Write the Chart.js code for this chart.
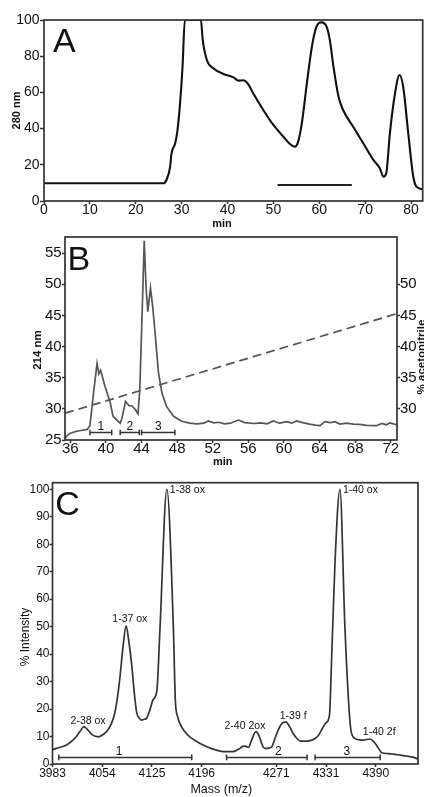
<!DOCTYPE html>
<html><head><meta charset="utf-8">
<script src="https://cdn.jsdelivr.net/npm/chart.js@4"></script>
<style>
html,body{margin:0;padding:0;background:#fff;}
#wrap{position:relative;width:424px;height:797px;overflow:hidden;background:#fff;}
canvas{position:absolute;left:0;top:0;}
</style></head><body>
<div id="wrap">
<canvas id="cA" width="424" height="797"></canvas>
<canvas id="cB" width="424" height="797"></canvas>
<canvas id="cC" width="424" height="797"></canvas>
</div>
<script>
// ---------------- Panel A: size-exclusion chromatogram (280 nm) ----------------
const aTime = [0, 26.0, 26.7, 27.5, 27.8, 28.6, 29.1, 29.6, 30.2, 30.7, 34.2, 34.6, 35.5, 36.9, 39.1, 41.3, 42.4, 43.4, 44.5, 45.6, 47.8, 50.0, 52.2, 53.6, 54.7, 55.4, 56.2, 57.3, 58.4, 59.4, 60.5, 61.6, 62.3, 63.1, 64.2, 65.2, 67.4, 69.6, 71.8, 73.2, 74.0, 74.6, 75.4, 76.4, 77.5, 78.3, 79.4, 80.5, 81.2, 82.55];
const aAbs  = [9.8, 9.8, 11.6, 19, 26.3, 31.9, 39.2, 52.1, 74.2, 100, 100, 89, 77.9, 73.3, 70.2, 68.3, 66.5, 66.7, 64.6, 59.5, 50.3, 42, 35.5, 31.5, 30, 32.8, 42.9, 65, 85.3, 96.3, 98.7, 96.3, 89, 74.2, 57.6, 50.3, 41, 31.9, 22.7, 18.1, 13.4, 15.3, 37.4, 57.6, 69.6, 63.1, 37.4, 13.4, 7.9, 6.5];
const aPool = [50.9, 67.1];     // pooled fraction (min)
const aPoolLevel = 8.8;
const aXTicks = [0, 10, 20, 30, 40, 50, 60, 70, 80];
const aYTicks = [0, 20, 40, 60, 80, 100];

// ---------------- Panel B: RP-HPLC (214 nm) + acetonitrile gradient ----------------
const bTime = [35.4, 35.7, 36.0, 36.7, 37.5, 37.9, 38.2, 38.6, 39.0, 39.2, 39.4, 39.9, 40.5, 40.8, 41.6, 41.8, 42.2, 42.6, 42.9, 43.3, 43.6, 43.8, 44.1, 44.3, 44.5, 44.7, 45.0, 45.25, 45.55, 45.9, 46.3, 46.8, 47.6, 48.5, 49.4, 50.2, 51.0, 51.5, 52.1, 52.7, 53.3, 54.0, 54.9, 55.6, 56.6, 57.4, 58.1, 58.8, 59.5, 60.3, 60.9, 61.4, 62.2, 62.9, 63.5, 64.05, 64.6, 65.2, 65.7, 66.3, 67.0, 67.8, 68.5, 69.3, 70.4, 71.0, 71.5, 71.9, 72.3, 72.7];
const bAbs  = [25.3, 25.8, 26.1, 26.4, 26.6, 26.7, 27.3, 32.5, 37.3, 35.6, 36.2, 33.6, 30.9, 28.8, 27.7, 28.5, 31.2, 30.5, 30.5, 29.9, 29.2, 33.0, 47, 57.0, 49.7, 45.6, 49.4, 46.5, 41.7, 35.8, 32.5, 30.4, 28.8, 28.0, 27.7, 27.6, 27.7, 28.05, 27.75, 27.85, 27.6, 27.7, 28.2, 27.8, 27.65, 27.75, 27.6, 28.05, 27.7, 27.95, 27.7, 28.05, 27.75, 27.55, 27.4, 27.3, 27.95, 27.8, 27.95, 27.55, 27.7, 27.55, 27.5, 27.35, 27.3, 27.65, 27.45, 27.75, 27.6, 27.4];
const gTime = [35.4, 72.7];      // gradient (min)
const gPct  = [29.3, 45.3];      // % acetonitrile
const bFracStart = [38.2, 41.6, 44.0];
const bFracEnd   = [40.65, 43.75, 47.75];
const bFracNames = ['1', '2', '3'];
const bFracLevel = 26.2;
const bXTicks = [36, 40, 44, 48, 52, 56, 60, 64, 68, 72];
const bYTicks = [25, 30, 35, 40, 45, 50, 55];
const bY2Ticks = [30, 35, 40, 45, 50];

// ---------------- Panel C: mass spectrum ----------------
const cPos = [0.00, 0.14, 0.28, 0.40, 0.50, 0.57, 0.63, 0.70, 0.80, 0.92, 1.00, 1.09, 1.18, 1.25, 1.30, 1.35, 1.42, 1.48, 1.54, 1.59, 1.65, 1.69, 1.74, 1.79, 1.85, 1.89, 1.96, 2.02, 2.10, 2.16, 2.30, 2.43, 2.47, 2.52, 2.56, 2.65, 2.76, 2.90, 3.03, 3.20, 3.37, 3.50, 3.63, 3.72, 3.77, 3.82, 3.87, 3.94, 4.00, 4.09, 4.16, 4.22, 4.27, 4.35, 4.41, 4.51, 4.60, 4.69, 4.77, 4.84, 4.92, 4.98, 5.08, 5.18, 5.28, 5.35, 5.41, 5.50, 5.57, 5.61, 5.68, 5.78, 5.88, 5.96, 6.00, 6.08, 6.18, 6.25, 6.38, 6.44, 6.49, 6.56, 6.62, 6.75, 6.85, 7.00, 7.12, 7.25, 7.35];
const cInt = [5.3, 6.0, 6.9, 8.5, 10.5, 12.3, 13.6, 12.6, 10.6, 9.9, 10.5, 11.8, 14.5, 18.4, 23.5, 30.5, 43, 50.3, 44, 36.6, 25, 19, 16.8, 16.0, 16.3, 16.6, 19.8, 23.3, 26.9, 48.7, 100, 50, 23.3, 17, 14.8, 12, 9.9, 8.2, 6.9, 5.6, 4.7, 4.5, 4.5, 5.2, 5.7, 6.4, 6.5, 6.0, 8.5, 11.8, 10, 6.8, 5.7, 5.8, 6.3, 11.1, 14.5, 15.3, 13.5, 11.1, 9.2, 8.4, 8.3, 8.5, 9.3, 10.5, 12.4, 15.0, 17.8, 36.6, 73, 100, 50, 21, 12.4, 9.3, 8.8, 8.7, 9.1, 8.5, 7.5, 5.6, 4.1, 3.8, 3.6, 3.2, 2.9, 2.5, 1.8];
const cTickLabels = ['3983', '4054', '4125', '4196', '4271', '4331', '4390'];
const cTickPos = [0, 1, 2, 3, 4.5, 5.5, 6.5];
const cYTicks = [0, 10, 20, 30, 40, 50, 60, 70, 80, 90, 100];
const cPeakNames = ['1-38 ox', '1-40 ox', '1-37 ox', '2-38 ox', '2-40 2ox', '1-39 f', '1-40 2f'];
const cPeakX = [2.36, 5.84, 1.555, 0.716, 3.87, 4.84, 6.57];
const cPeakY = [99.6, 99.6, 52.6, 15.7, 13.8, 17.5, 11.7];
const cPeakAlign = ['left', 'left', 'center', 'center', 'center', 'center', 'center'];
const cFracStart = [0.127, 3.50, 5.28];
const cFracEnd   = [2.80, 5.12, 6.59];
const cFracNames = ['1', '2', '3'];
const cFracLabelX = [1.34, 4.54, 5.92];
const cFracLevel = 2.4;

// ---------------- helpers ----------------
const FONT = '"Liberation Sans", Arial, Helvetica, sans-serif';
const xy = (xs, ys) => xs.map((x, i) => ({x: x, y: ys[i]}));
const bars = (s, e, lvl) => s.flatMap((v, i) => [{x: v, y: lvl}, {x: e[i], y: lvl}, {x: e[i], y: null}]);

function axis(o) {
  return {
    type: 'linear', position: o.position, min: o.min, max: o.max, bounds: 'data',
    afterBuildTicks: s => { s.ticks = o.ticks.map(v => ({value: v})); },
    afterFit: s => {
      if (o.horizontal) s.height = o.size; else s.width = o.size;
      s.paddingLeft = 0; s.paddingRight = 0; s.paddingTop = 0; s.paddingBottom = 0;
    },
    grid: {display: true, drawOnChartArea: false, drawTicks: true, tickLength: o.tl, tickColor: '#333', tickWidth: 1.5},
    border: {display: false},
    ticks: {font: {family: FONT, size: o.fs}, color: '#111', padding: o.pad, maxRotation: 0, minRotation: 0, autoSkip: false,
            callback: o.cb || (v => String(v))},
    title: {display: false}
  };
}

const boxPlugin = {
  id: 'box',
  afterDatasetsDraw(chart) {
    const a = chart.chartArea, ctx = chart.ctx;
    ctx.save(); ctx.strokeStyle = '#333'; ctx.lineWidth = 1.7;
    ctx.strokeRect(a.left, a.top, a.right - a.left, a.bottom - a.top);
    ctx.restore();
  }
};
const textPlugin = {
  id: 'ptext',
  afterDraw(chart, args, opts) {
    const ctx = chart.ctx, a = chart.chartArea;
    (opts.items || []).forEach(it => {
      let x, y;
      if (it.xv !== undefined) {
        x = chart.scales[it.xs || 'x'].getPixelForValue(it.xv);
        y = chart.scales[it.ys || 'y'].getPixelForValue(it.yv);
      } else {
        x = (it.ax === 'r' ? a.right : a.left) + it.dx;
        y = (it.ay === 'b' ? a.bottom : it.ay === 'm' ? (a.top + a.bottom) / 2 : a.top) + it.dy;
      }
      ctx.save();
      ctx.font = it.font; ctx.fillStyle = it.color || '#111';
      ctx.textAlign = it.align || 'center'; ctx.textBaseline = it.base || 'middle';
      ctx.translate(x, y); if (it.rot) ctx.rotate(it.rot);
      ctx.fillText(it.text, 0, 0);
      ctx.restore();
    });
  }
};
const common = {
  responsive: false, animation: false, events: [],
  plugins: {legend: {display: false}, tooltip: {enabled: false}}
};
const capPoints = {pointStyle: 'line', rotation: 90, pointRadius: 2.8, pointBorderWidth: 1.5, pointHoverRadius: 0};
const BOLD11 = 'bold 11px ' + FONT;

// ---------------- Chart A ----------------
new Chart(document.getElementById('cA'), {
  type: 'line',
  data: {datasets: [
    {data: xy(aTime, aAbs), borderColor: '#111', borderWidth: 2.1, pointRadius: 0, cubicInterpolationMode: 'monotone'},
    {data: [{x: aPool[0], y: aPoolLevel}, {x: aPool[1], y: aPoolLevel}], borderColor: '#222', borderWidth: 2, pointRadius: 0}
  ]},
  options: Object.assign({}, common, {
    layout: {padding: {left: 0, top: 20, right: 1.3, bottom: 569}},
    scales: {
      x: axis({position: 'bottom', min: 0, max: 82.55, ticks: aXTicks, horizontal: true, size: 27, tl: 3, fs: 14, pad: -2.4}),
      y: axis({position: 'left', min: 0, max: 100, ticks: aYTicks, size: 44, tl: 4, fs: 14, pad: 0.5})
    },
    plugins: Object.assign({}, common.plugins, {ptext: {items: [
      {text: 'A', ax: 'l', dx: 9, ay: 't', dy: 32, font: '34px ' + FONT, align: 'left', base: 'alphabetic'},
      {text: '280 nm', ax: 'l', dx: -27, ay: 'm', dy: 0, font: BOLD11, rot: -Math.PI / 2},
      {text: 'min', ax: 'l', dx: 178, ay: 'b', dy: 25.5, font: BOLD11, base: 'alphabetic'}
    ]}})
  }),
  plugins: [boxPlugin, textPlugin]
});

// ---------------- Chart B ----------------
new Chart(document.getElementById('cB'), {
  type: 'line',
  data: {datasets: [
    {data: xy(bTime, bAbs), borderColor: '#555', borderWidth: 1.7, pointRadius: 0, tension: 0},
    {data: xy(gTime, gPct), yAxisID: 'y1', borderColor: '#555', borderWidth: 1.7, borderDash: [9, 5], pointRadius: 0},
    Object.assign({data: bars(bFracStart, bFracEnd, bFracLevel), borderColor: '#333', borderWidth: 1.5, pointBorderColor: '#333', spanGaps: false}, capPoints)
  ]},
  options: Object.assign({}, common, {
    layout: {padding: {left: 0, top: 237, right: 0, bottom: 327}},
    scales: {
      x: axis({position: 'bottom', min: 35.4, max: 72.7, ticks: bXTicks, horizontal: true, size: 30, tl: 3, fs: 15, pad: -3}),
      y: axis({position: 'left', min: 25, max: 57.6, ticks: bYTicks, size: 65, tl: 3, fs: 15, pad: 0.3}),
      y1: axis({position: 'right', min: 25, max: 57.6, ticks: bY2Ticks, size: 27, tl: 3, fs: 15, pad: 0})
    },
    plugins: Object.assign({}, common.plugins, {ptext: {items: [
      {text: 'B', ax: 'l', dx: 2.5, ay: 't', dy: 33, font: '34px ' + FONT, align: 'left', base: 'alphabetic'},
      {text: '214 nm', ax: 'l', dx: -27, ay: 't', dy: 113, font: 'bold 11.5px ' + FONT, rot: -Math.PI / 2},
      {text: '% acetonitrile', ax: 'r', dx: 24.5, ay: 't', dy: 120, font: 'bold 11.5px ' + FONT, rot: -Math.PI / 2},
      {text: 'min', ax: 'l', dx: 157.7, ay: 'b', dy: 25, font: BOLD11, base: 'alphabetic'}
    ].concat(bFracNames.map((t, i) => ({text: t, xv: (bFracStart[i] + bFracEnd[i]) / 2, yv: 27.15, font: '12px ' + FONT})))}})
  }),
  plugins: [boxPlugin, textPlugin]
});

// ---------------- Chart C ----------------
new Chart(document.getElementById('cC'), {
  type: 'line',
  data: {datasets: [
    {data: xy(cPos, cInt), borderColor: '#333', borderWidth: 1.7, pointRadius: 0, cubicInterpolationMode: 'monotone'},
    Object.assign({data: bars(cFracStart, cFracEnd, cFracLevel), borderColor: '#333', borderWidth: 1.5, pointBorderColor: '#333', spanGaps: false}, capPoints)
  ]},
  options: Object.assign({}, common, {
    layout: {padding: {left: 0, top: 482.7, right: 6, bottom: 0}},
    scales: {
      x: axis({position: 'bottom', min: 0, max: 7.35, ticks: cTickPos, horizontal: true, size: 33, tl: 3, fs: 12, pad: -0.7,
               cb: v => cTickLabels[cTickPos.indexOf(v)]}),
      y: axis({position: 'left', min: 0, max: 102.4, ticks: cYTicks, size: 52.5, tl: 3, fs: 12, pad: 0})
    },
    plugins: Object.assign({}, common.plugins, {ptext: {items: [
      {text: 'C', ax: 'l', dx: 2.8, ay: 't', dy: 32.3, font: '34px ' + FONT, align: 'left', base: 'alphabetic'},
      {text: '% Intensity', ax: 'l', dx: -27, ay: 't', dy: 154.3, font: '12px ' + FONT, rot: -Math.PI / 2},
      {text: 'Mass (m/z)', ax: 'l', dx: 168.8, ay: 'b', dy: 29, font: '12.5px ' + FONT, base: 'alphabetic'}
    ].concat(cPeakNames.map((t, i) => ({text: t, xv: cPeakX[i], yv: cPeakY[i], align: cPeakAlign[i], font: '10.5px ' + FONT})))
     .concat(cFracNames.map((t, i) => ({text: t, xv: cFracLabelX[i], yv: 4.6, font: '12px ' + FONT})))}})
  }),
  plugins: [boxPlugin, textPlugin]
});
</script>
</body></html>
